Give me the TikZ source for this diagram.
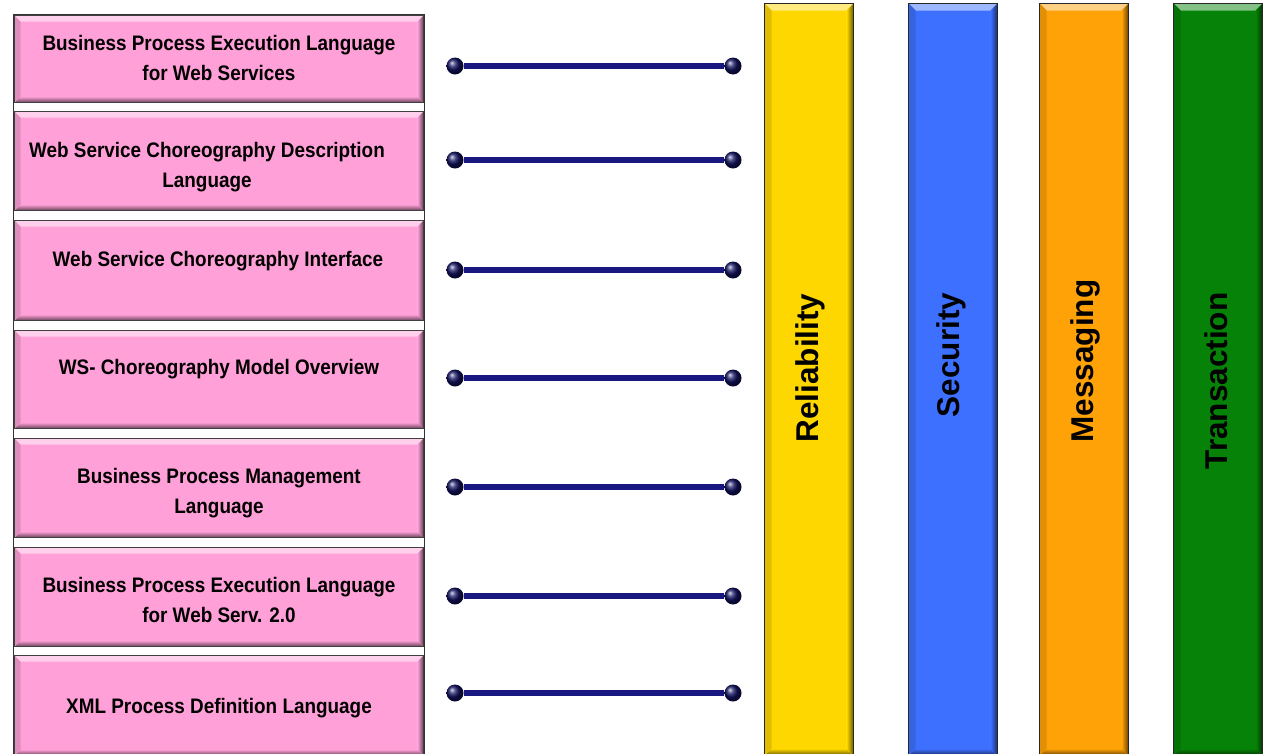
\documentclass[tikz,border=0pt]{standalone}
\usepackage{fontspec}
\setmainfont{Liberation Sans}
\newfontfamily\boxfont[FakeStretch=0.9]{Liberation Sans}

\definecolor{boxpink}{RGB}{255,160,216}
\definecolor{baryellow}{RGB}{255,215,0}
\definecolor{barblue}{RGB}{61,112,255}
\definecolor{barorange}{RGB}{255,162,8}
\definecolor{bargreen}{RGB}{6,130,8}
\definecolor{rodnavy}{RGB}{24,24,128}

\tikzset{
  % raised, button-like edges: light top, shaded right and bottom, dim left
  bevel/.style 2 args={path picture={
    \fill[#1!50!white] (path picture bounding box.north west) -- (path picture bounding box.north east)
      -- ([shift={(-#2,-#2)}]path picture bounding box.north east) -- ([shift={(#2,-#2)}]path picture bounding box.north west) -- cycle;
    \shade[left color=#1, right color=#1!40!black] ([shift={(-#2,-#2)}]path picture bounding box.north east)
      -- (path picture bounding box.north east) -- (path picture bounding box.south east)
      -- ([shift={(-#2,#2)}]path picture bounding box.south east) -- cycle;
    \shade[top color=#1, bottom color=#1!40!black] ([shift={(#2,#2)}]path picture bounding box.south west)
      -- ([shift={(-#2,#2)}]path picture bounding box.south east) -- (path picture bounding box.south east)
      -- (path picture bounding box.south west) -- cycle;
    \fill[#1!88!black] (path picture bounding box.north west) -- ([shift={(#2,-#2)}]path picture bounding box.north west)
      -- ([shift={(#2,#2)}]path picture bounding box.south west) -- (path picture bounding box.south west) -- cycle;
  }},
  panel/.style={draw=black!80, line width=1.2pt, fill=white, anchor=north west, inner sep=0pt,
    minimum width=411pt, minimum height=740pt},
  pinkbox/.style={draw=black!75, line width=1pt, fill=boxpink, bevel={boxpink}{6pt},
    anchor=north west, inner sep=0pt, minimum width=409pt},
  boxtext/.style={align=center, inner sep=0pt, font=\boxfont\bfseries\fontsize{21}{30}\selectfont},
  bar/.style={draw=black!85, line width=1.2pt, anchor=north west, inner sep=0pt,
    minimum width=89pt, minimum height=752pt},
  bartext/.style={rotate=90, inner sep=0pt, font=\bfseries\fontsize{31.5}{36}\selectfont},
  knob/.style={circle, inner sep=0pt, minimum size=17pt, shading=ball, ball color=rodnavy!75!black},
  rod/.style={draw=rodnavy, line width=5.5pt},
}

\begin{document}
\begin{tikzpicture}[x=1pt, y=-1pt]
\useasboundingbox (0,0) rectangle (1267,753);

% left column of languages
\node[panel] (frame) at (13,14) {};
\node[pinkbox, minimum height=87pt] (b1) at (14,15) {};
\node[pinkbox, minimum height=99pt] (b2) at (14,111) {};
\node[pinkbox, minimum height=100pt] (b3) at (14,220) {};
\node[pinkbox, minimum height=98pt] (b4) at (14,330) {};
\node[pinkbox, minimum height=99pt] (b5) at (14,438) {};
\node[pinkbox, minimum height=99pt] (b6) at (14,547) {};
\node[pinkbox, minimum height=100pt] (b7) at (14,655) {};

\node[boxtext] (t1) at (219,58) {Business Process Execution Language\\for Web Services};
\node[boxtext] (t2) at (207,167) {Web Service Choreography Description\\Language};
\node[boxtext] (t3) at (218,261) {Web Service Choreography Interface};
\node[boxtext] (t4) at (219,369) {WS- Choreography Model Overview};
\node[boxtext] (t5) at (219,493) {Business Process Management\\Language};
\node[boxtext] (t6) at (219,600) {Business Process Execution Language\\for Web Serv. 2.0};
\node[boxtext] (t7) at (219,708) {XML Process Definition Language};

% connecting rods
\foreach \i/\y in {1/66, 2/160, 3/270, 4/378, 5/487, 6/596, 7/693} {
  \node[knob] (l\i) at (455,\y) {};
  \node[knob] (r\i) at (733,\y) {};
  \draw[rod] (l\i) -- (r\i);
}

% cross-cutting concerns
\node[bar, fill=baryellow, bevel={baryellow}{7pt}] (rel) at (764,3) {};
\node[bar, fill=barblue, bevel={barblue}{7pt}] (sec) at (908,3) {};
\node[bar, fill=barorange, bevel={barorange}{7pt}] (msg) at (1039,3) {};
\node[bar, fill=bargreen, bevel={bargreen}{7pt}] (trn) at (1173,3) {};

\node[bartext] (relt) at (810,368) {Reliability};
\node[bartext] (sect) at (951,355) {Security};
\node[bartext] (msgt) at (1085,361) {Messaging};
\node[bartext] (trnt) at (1216,381) {Transaction};
\end{tikzpicture}
\end{document}
